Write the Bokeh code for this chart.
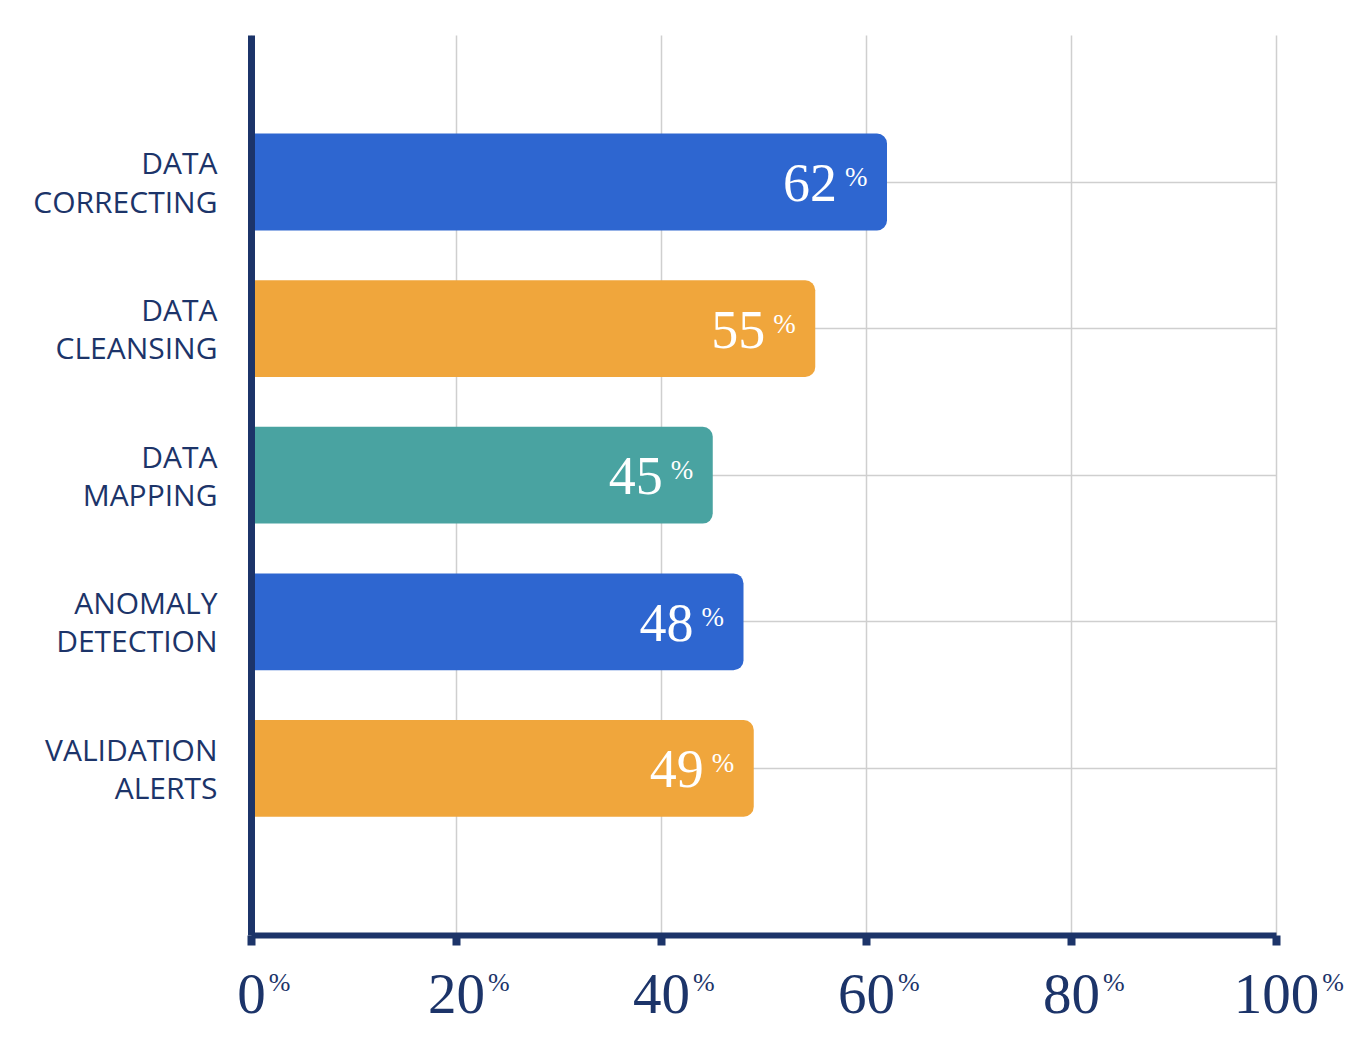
from bokeh.plotting import figure
from bokeh.models import Range1d, FixedTicker, ColumnDataSource
from bokeh.core.properties import value
from bokeh.embed import file_html
from bokeh.resources import INLINE

# ---- data ----
categories = [("DATA", "CORRECTING"), ("DATA", "CLEANSING"), ("DATA", "MAPPING"),
              ("ANOMALY", "DETECTION"), ("VALIDATION", "ALERTS")]
values = [62, 55, 45, 48, 49]
bar_colors = ["#2e66d0", "#f0a63c", "#49a3a1", "#2e66d0", "#f0a63c"]
x_ticks = [0, 20, 40, 60, 80, 100]
x_tick_labels = ["0", "20", "40", "60", "80", "100"]
X_MAX = 100

NAVY = "#1c3469"
GRID = "#cfcfcf"
SERIF = "Liberation Serif"

# ---- layout (pixels) ----
W, H = 1345, 1045
LEFT = 251             # x of the 0 % line
AXIS_W = 1025          # px from 0 % to 100 %
PLOT_TOP = 35          # top of the axis / grid lines
PLOT_BOTTOM = 935      # y of the x axis line
BAR_STEP = 146.6       # px between bar centres
FIRST_BAR = 181.5      # y of first bar centre
TICK_FS = 57           # x tick label font size (px)
DIGIT_W = TICK_FS / 2  # width of one digit in that font

n = len(categories)
pos = [n - 1 - i for i in range(n)]
ppu = AXIS_W / X_MAX
x_start = -LEFT / ppu
x_end = (W - LEFT) / ppu
y_end = (n - 1) + FIRST_BAR / BAR_STEP
y_top = (n - 1) + (FIRST_BAR - PLOT_TOP) / BAR_STEP
last_c = FIRST_BAR + (n - 1) * BAR_STEP
axis_y = -(PLOT_BOTTOM - last_c) / BAR_STEP
y_start = -(H - last_c) / BAR_STEP
LINE_D = 0.13  # half line spacing of two-line category labels, in bar units

p = figure(frame_width=W, frame_height=H,
           x_range=Range1d(x_start, x_end), y_range=Range1d(y_start, y_end),
           output_backend="svg", toolbar_location=None,
           min_border=0, background_fill_color="white",
           border_fill_color="white")
p.outline_line_color = None

# grids
p.xgrid.ticker = FixedTicker(ticks=x_ticks)
p.xgrid.grid_line_color = GRID
p.xgrid.grid_line_width = 1.5
p.xgrid.cross_bounds = (axis_y, y_top)
p.ygrid.ticker = FixedTicker(ticks=pos)
p.ygrid.grid_line_color = GRID
p.ygrid.grid_line_width = 1.5
p.ygrid.cross_bounds = (0, X_MAX)

# x axis
xa = p.xaxis[0]
xa.fixed_location = axis_y
xa.bounds = (0, X_MAX)
xa.ticker = FixedTicker(ticks=x_ticks)
xa.major_label_overrides = {t: l for t, l in zip(x_ticks, x_tick_labels)}
xa.axis_line_color = NAVY
xa.axis_line_width = 6
xa.major_tick_line_color = NAVY
xa.major_tick_line_width = 8
xa.major_tick_out = 10
xa.major_tick_in = 0
xa.minor_tick_line_color = None
xa.major_label_text_font = SERIF
xa.major_label_text_font_size = f"{TICK_FS}px"
xa.major_label_text_color = NAVY
xa.major_label_standoff = 29

# y axis: two-line category labels, one tick per line
ytick_pos = []
ytick_lab = {}
for pp, (l1, l2) in zip(pos, categories):
    a, b = round(pp + LINE_D, 3), round(pp - LINE_D, 3)
    ytick_pos += [a, b]
    ytick_lab[a] = l1
    ytick_lab[b] = l2
ya = p.yaxis[0]
ya.fixed_location = 0
ya.bounds = (axis_y, y_top)
ya.ticker = FixedTicker(ticks=ytick_pos)
ya.major_label_overrides = ytick_lab
ya.axis_line_color = NAVY
ya.axis_line_width = 7
ya.major_tick_line_color = None
ya.minor_tick_line_color = None
ya.major_label_text_font = "Open Sans"
ya.major_label_text_font_size = "30px"
ya.major_label_text_color = NAVY
ya.major_label_standoff = 28

src = ColumnDataSource(dict(
    pos=pos, value=values, color=bar_colors,
    vtxt=[str(v) for v in values], pct=["%"] * n))

p.hbar(y="pos", left=0, right="value", height=0.66, source=src,
       fill_color="color", line_color=None,
       border_radius=dict(top_left=0, top_right=10, bottom_right=10, bottom_left=0))

p.text(x="value", y="pos", text="vtxt", source=src,
       text_align="right", text_baseline="middle", x_offset=-50, y_offset=1,
       text_font=value(SERIF), text_font_size="54px", text_color="white")
p.text(x="value", y="pos", text="pct", source=src,
       text_align="left", text_baseline="alphabetic", x_offset=-42, y_offset=-5,
       text_font=value(SERIF), text_font_size="27px", text_color="white")

# superscript % next to x tick labels
tsrc = ColumnDataSource(dict(
    x=x_ticks, y=[axis_y] * len(x_ticks), pct=["%"] * len(x_ticks),
    xo=[len(l) * DIGIT_W / 2 + 3 for l in x_tick_labels]))
p.text(x="x", y="y", text="pct", source=tsrc, x_offset="xo", y_offset=47,
       text_align="left", text_baseline="alphabetic",
       text_font=value(SERIF), text_font_size="26px", text_color=NAVY)

open("out.html", "w").write(file_html(p, INLINE))
